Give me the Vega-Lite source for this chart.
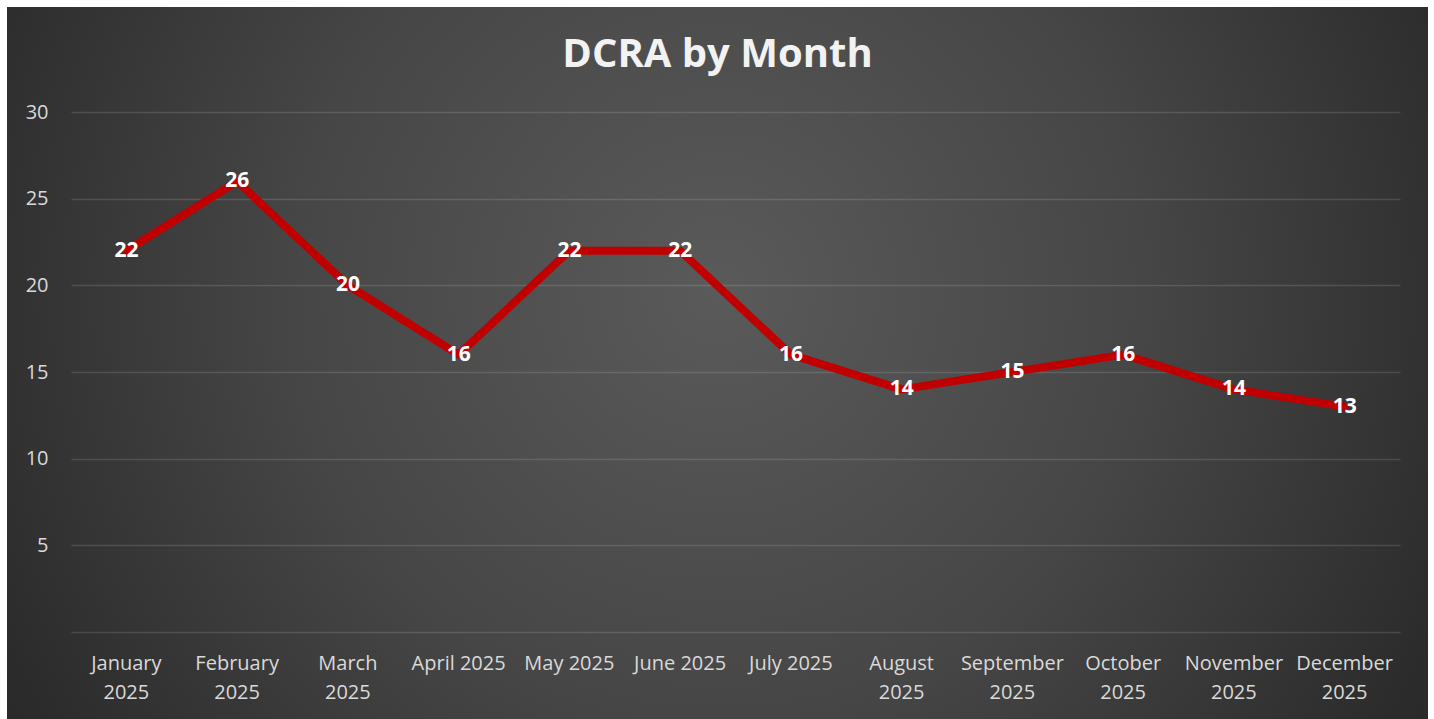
{
  "$schema": "https://vega.github.io/schema/vega-lite/v6.json",
  "width": 1421,
  "height": 712,
  "autosize": {"type": "none"},
  "padding": {"top": 7, "left": 7, "right": 6, "bottom": 0},
  "background": "#ffffff",
  "title": {
    "text": "DCRA by Month",
    "orient": "top",
    "anchor": "middle",
    "frame": "group",
    "offset": -62,
    "dy": 46,
    "baseline": "bottom",
    "font": "Open Sans",
    "fontSize": 40,
    "fontWeight": "bold",
    "color": "#f2f2f2"
  },
  "config": {
    "view": {
      "stroke": null,
      "fill": {
        "gradient": "radial",
        "x1": 0.5, "y1": 0.45, "r1": 0,
        "x2": 0.5, "y2": 0.45, "r2": 0.75,
        "stops": [
          {"offset": 0, "color": "#5a5a5a"},
          {"offset": 0.4, "color": "#464646"},
          {"offset": 0.75, "color": "#2b2b2b"},
          {"offset": 1, "color": "#232323"}
        ]
      }
    },
    "font": "Open Sans"
  },
  "data": {
    "values": [
      {"month": "January 2025", "count": 22},
      {"month": "February 2025", "count": 26},
      {"month": "March 2025", "count": 20},
      {"month": "April 2025", "count": 16},
      {"month": "May 2025", "count": 22},
      {"month": "June 2025", "count": 22},
      {"month": "July 2025", "count": 16},
      {"month": "August 2025", "count": 14},
      {"month": "September 2025", "count": 15},
      {"month": "October 2025", "count": 16},
      {"month": "November 2025", "count": 14},
      {"month": "December 2025", "count": 13}
    ]
  },
  "encoding": {
    "x": {
      "field": "month",
      "type": "nominal",
      "sort": null,
      "scale": {"type": "band", "range": [64, 1393], "paddingInner": 0, "paddingOuter": 0},
      "axis": {
        "title": null,
        "orient": "bottom",
        "offset": -87,
        "domain": false,
        "ticks": false,
        "grid": false,
        "labelAngle": 0,
        "labelPadding": 31,
        "labelBaseline": "middle",
        "labelFont": "Open Sans",
        "labelFontSize": 20,
        "labelColor": "#d9d9d9",
        "labelLineHeight": 29,
        "labelLimit": 0,
        "labelExpr": "indexof(['April 2025','May 2025','June 2025','July 2025'], datum.label) >= 0 ? datum.label : split(datum.label, ' ')"
      }
    },
    "y": {
      "field": "count",
      "type": "quantitative",
      "scale": {"domain": [0, 30], "range": [625, 105], "nice": false, "zero": true},
      "axis": {
        "title": null,
        "orient": "left",
        "offset": -64,
        "values": [0, 5, 10, 15, 20, 25, 30],
        "domain": false,
        "ticks": false,
        "grid": true,
        "gridColor": "#ffffff",
        "gridOpacity": 0.13,
        "gridWidth": 1.5,
        "labelPadding": 23,
        "labelFont": "Open Sans",
        "labelFontSize": 20,
        "labelColor": "#d9d9d9",
        "labelExpr": "datum.value == 0 ? '' : datum.label"
      }
    }
  },
  "layer": [
    {
      "mark": {"type": "line", "color": "#c00000", "strokeWidth": 8, "strokeJoin": "round", "strokeCap": "round"}
    },
    {
      "mark": {"type": "text", "color": "#ffffff", "font": "Open Sans", "fontSize": 21, "fontWeight": "bold", "baseline": "middle", "align": "center"},
      "encoding": {"text": {"field": "count", "type": "quantitative"}}
    }
  ]
}
